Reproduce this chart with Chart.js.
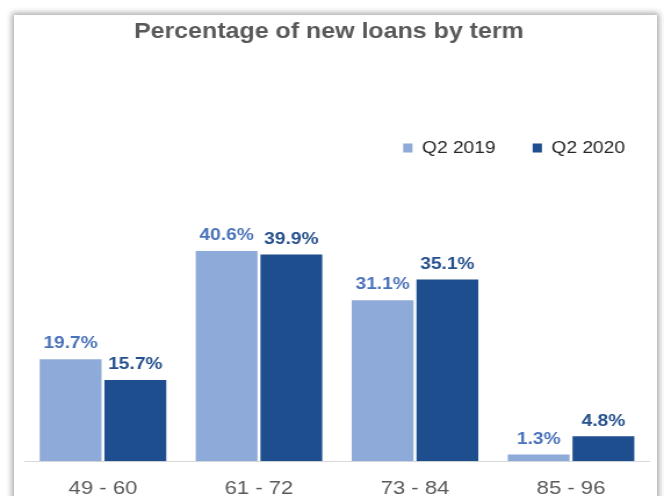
<!DOCTYPE html>
<html>
<head>
<meta charset="utf-8">
<script src="https://cdn.jsdelivr.net/npm/chart.js@4/dist/chart.umd.min.js"></script>
<style>
    html, body { margin: 0; padding: 0; background: #fff; overflow: hidden; width: 664px; height: 496px; }
    .frame {
        position: absolute; left: 14px; top: 15px; width: 643px; height: 520px;
        background: #fff; box-shadow: 0 0 6px 2px rgba(0, 0, 0, 0.35);
    }
    #loanChart { position: absolute; left: 0; top: 0; }
</style>
</head>
<body>
<div class="frame"></div>
<!-- canvas is drawn narrow and stretched wide -->
<canvas id="loanChart" width="572" height="518" style="width: 664px; height: 518px;"></canvas>
<script>
// Data
const terms = ['49 - 60', '61 - 72', '73 - 84', '85 - 96'];
const q2_2019 = [19.7, 40.6, 31.1, 1.3];
const q2_2020 = [15.7, 39.9, 35.1, 4.8];

const lightBlue = '#8eaad8';
const darkBlue = '#1f4e8e';
const fontFamily = '"Liberation Sans", Arial, sans-serif';

// Percent labels above each bar
const barLabels = {
    id: 'barLabels',
    afterDatasetsDraw(chart) {
        const ctx = chart.ctx;
        const colors = ['#4a72ba', '#25508c'];
        ctx.save();
        ctx.font = 'bold 16.5px ' + fontFamily;
        ctx.textAlign = 'center';
        ctx.textBaseline = 'bottom';
        chart.data.datasets.forEach((ds, i) => {
            ctx.fillStyle = colors[i];
            chart.getDatasetMeta(i).data.forEach((bar, j) => {
                ctx.fillText(ds.data[j].toFixed(1) + '%', bar.x, bar.y - 7);
            });
        });
        ctx.restore();
    }
};

// Extra room below the legend; legend nudged right, title nudged left
const layoutTweaks = {
    id: 'layoutTweaks',
    beforeInit(chart) {
        const fit = chart.legend.fit;
        chart.legend.fit = function () {
            fit.bind(chart.legend)();
            this.height += 36;
        };
    },
    afterLayout(chart) {
        chart.legend.right += 11.3;
        chart.titleBlock.left -= 7;
        chart.titleBlock.right -= 7;
    }
};

const ctx = document.getElementById('loanChart').getContext('2d');
new Chart(ctx, {
    type: 'bar',
    data: {
        labels: terms,
        datasets: [
            { label: 'Q2 2019', data: q2_2019, backgroundColor: lightBlue },
            { label: 'Q2 2020', data: q2_2020, backgroundColor: darkBlue }
        ]
    },
    options: {
        responsive: false,
        animation: false,
        categoryPercentage: 0.83,
        barPercentage: 0.955,
        layout: { padding: { left: 21.5, right: 12.9, top: 0, bottom: 2 } },
        plugins: {
            title: {
                display: true,
                text: 'Percentage of new loans by term',
                color: '#595959',
                font: { family: fontFamily, size: 21.5, weight: 'bold' },
                padding: { top: 19, bottom: 63 }
            },
            legend: {
                position: 'top',
                align: 'end',
                labels: {
                    color: '#262626',
                    font: { family: fontFamily, size: 16.5 },
                    boxWidth: 8,
                    boxHeight: 9,
                    padding: 32
                }
            },
            tooltip: { enabled: false }
        },
        scales: {
            x: {
                grid: { display: false, drawTicks: false },
                border: { color: '#d9d9d9', width: 1 },
                ticks: {
                    color: '#595959',
                    padding: 16,
                    font: { family: fontFamily, size: 19 }
                }
            },
            y: {
                display: false,
                min: 0,
                max: 50
            }
        }
    },
    plugins: [barLabels, layoutTweaks]
});
</script>
</body>
</html>
